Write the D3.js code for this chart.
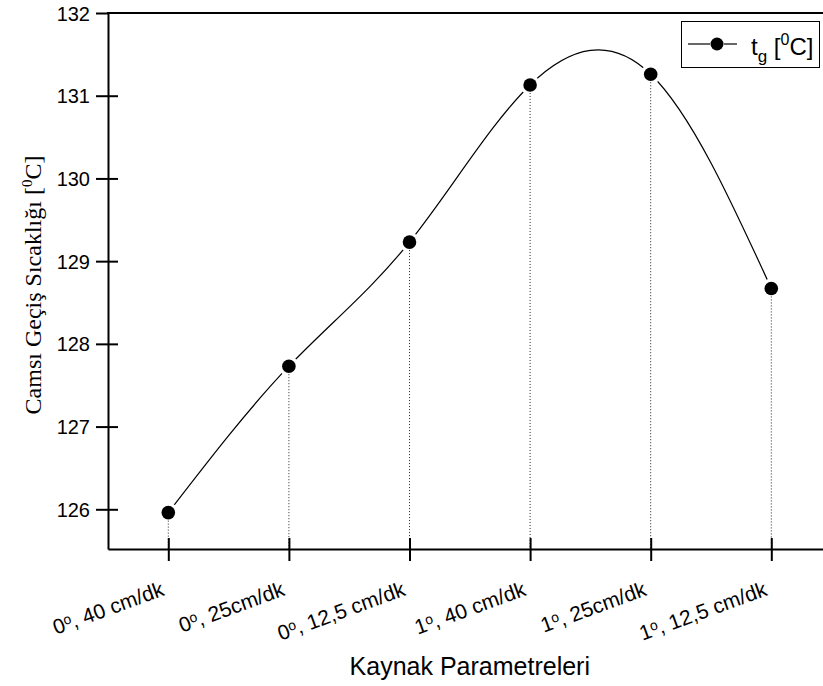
<!DOCTYPE html>
<html>
<head>
<meta charset="utf-8">
<script src="https://cdn.jsdelivr.net/npm/d3@7"></script>
<style>
  body { margin: 0; background: #fff; }
  svg { display: block; }
  text { font-family: "Liberation Sans", Arial, sans-serif; fill: #000; }
</style>
</head>
<body>
<div id="chart"></div>
<script>
// dati
const categories = ["0, 40 cm/dk", "0, 25cm/dk", "0, 12,5 cm/dk", "1, 40 cm/dk", "1, 25cm/dk", "1, 12,5 cm/dk"];
const angles = ["0", "0", "0", "1", "1", "1"];
const speeds = [", 40 cm/dk", ", 25cm/dk", ", 12,5 cm/dk", ", 40 cm/dk", ", 25cm/dk", ", 12,5 cm/dk"];
const tgValues = [125.96, 127.73, 129.23, 131.13, 131.26, 128.67];
const yTicks = [126, 127, 128, 129, 130, 131, 132];

const W = 823, H = 686;
const margin = { top: 13, right: 0, bottom: 137, left: 108 };
const plotRight = 831.6; // il riquadro esce un po' dalla finestra

const svg = d3.select("#chart")
    .append("svg")
    .attr("width", W)
    .attr("height", H);

const x = d3.scalePoint()
    .domain(categories)
    .range([margin.left, plotRight])
    .padding(0.5);

const y = d3.scaleLinear()
    .domain([125.52, 132])
    .range([H - margin.bottom, margin.top]);

const bottomY = H - margin.bottom;

const data = categories.map((c, i) => ({ cat: c, v: tgValues[i], a: angles[i], s: speeds[i] }));

// curva spline
const line = d3.line()
    .x(d => x(d.cat))
    .y(d => y(d.v))
    .curve(d3.curveNatural);

svg.append("path")
    .datum(data)
    .attr("d", line)
    .attr("fill", "none")
    .attr("stroke", "#000")
    .attr("stroke-width", 1.2);

// alone bianco attorno ai marker (stacco della linea)
svg.selectAll(".halo")
    .data(data)
    .join("circle")
    .attr("cx", d => x(d.cat))
    .attr("cy", d => y(d.v))
    .attr("r", 10)
    .attr("fill", "#fff");

// linee di proiezione tratteggiate
svg.selectAll(".drop")
    .data(data)
    .join("line")
    .attr("x1", d => x(d.cat))
    .attr("x2", d => x(d.cat))
    .attr("y1", d => y(d.v) + 8)
    .attr("y2", bottomY)
    .attr("stroke", "#222")
    .attr("stroke-width", 1)
    .attr("stroke-dasharray", "1,2");

// assi
const yAxis = svg.append("g")
    .attr("transform", `translate(${margin.left},0)`)
    .call(d3.axisLeft(y).tickValues(yTicks).tickSizeInner(12).tickSizeOuter(0).tickPadding(6).tickFormat(d3.format("d")));
yAxis.select(".domain").attr("stroke-width", 2);
yAxis.selectAll(".tick line").attr("stroke-width", 2).attr("x2", 10).attr("x1", -12);
yAxis.selectAll(".tick text").style("font-size", "20px").attr("x", -18).attr("dy", "0.35em");
yAxis.selectAll(".tick").filter(d => d === 132).select("line").attr("x2", 0);

const xAxis = svg.append("g")
    .attr("transform", `translate(0,${bottomY})`)
    .call(d3.axisBottom(x).tickSizeInner(12).tickSizeOuter(0).tickFormat(""));
xAxis.select(".domain").attr("stroke-width", 2);
xAxis.selectAll(".tick line").attr("stroke-width", 2).attr("y1", -11).attr("y2", 12);

// bordo superiore
svg.append("line")
    .attr("x1", margin.left - 1)
    .attr("x2", plotRight)
    .attr("y1", margin.top)
    .attr("y2", margin.top)
    .attr("stroke", "#000")
    .attr("stroke-width", 2);

// etichette inclinate asse x
const xl = svg.selectAll(".xlab")
    .data(data)
    .join("text")
    .attr("text-anchor", "end")
    .attr("transform", d => `translate(${x(d.cat) - 3},${bottomY + 46}) rotate(-20)`)
    .style("font-size", "21px");
xl.append("tspan").text(d => d.a);
xl.append("tspan").text("o").style("font-size", "14px").attr("dy", "-6");
xl.append("tspan").text(d => d.s).attr("dy", "6");

// marker
svg.selectAll(".dot")
    .data(data)
    .join("circle")
    .attr("cx", d => x(d.cat))
    .attr("cy", d => y(d.v))
    .attr("r", 6.8)
    .attr("fill", "#000");

// titoli assi
svg.append("text")
    .attr("x", (margin.left + plotRight) / 2)
    .attr("y", 675)
    .attr("text-anchor", "middle")
    .style("font-size", "25px")
    .text("Kaynak Parametreleri");

const yt = svg.append("text")
    .attr("transform", `translate(41,${(margin.top + bottomY) / 2 + 4}) rotate(-90)`)
    .attr("text-anchor", "middle")
    .style("font-family", "'Liberation Serif', 'Times New Roman', serif")
    .style("font-size", "24px");
yt.append("tspan").text("Camsı Geçiş Sıcaklığı [");
yt.append("tspan").text("0").style("font-size", "15px").attr("dy", "-9");
yt.append("tspan").text("C]").attr("dy", "9");

// legenda
const leg = svg.append("g");
leg.append("rect")
    .attr("x", 681.5).attr("y", 21.5)
    .attr("width", 138).attr("height", 46)
    .attr("fill", "#fff")
    .attr("stroke", "#000")
    .attr("stroke-width", 1);
leg.append("line").attr("x1", 688).attr("x2", 710).attr("y1", 44).attr("y2", 44).attr("stroke", "#000").attr("stroke-width", 1.2);
leg.append("line").attr("x1", 724).attr("x2", 737).attr("y1", 44).attr("y2", 44).attr("stroke", "#000").attr("stroke-width", 1.2);
leg.append("circle").attr("cx", 717).attr("cy", 44).attr("r", 6.5).attr("fill", "#000");
const lt = leg.append("text")
    .attr("x", 751).attr("y", 55)
    .style("font-size", "24px");
lt.append("tspan").text("t");
lt.append("tspan").text("g").style("font-size", "17px").attr("dy", "7");
lt.append("tspan").text(" [").attr("dy", "-7");
lt.append("tspan").text("0").style("font-size", "16px").attr("dy", "-10");
lt.append("tspan").text("C]").attr("dy", "10");
</script>
</body>
</html>
